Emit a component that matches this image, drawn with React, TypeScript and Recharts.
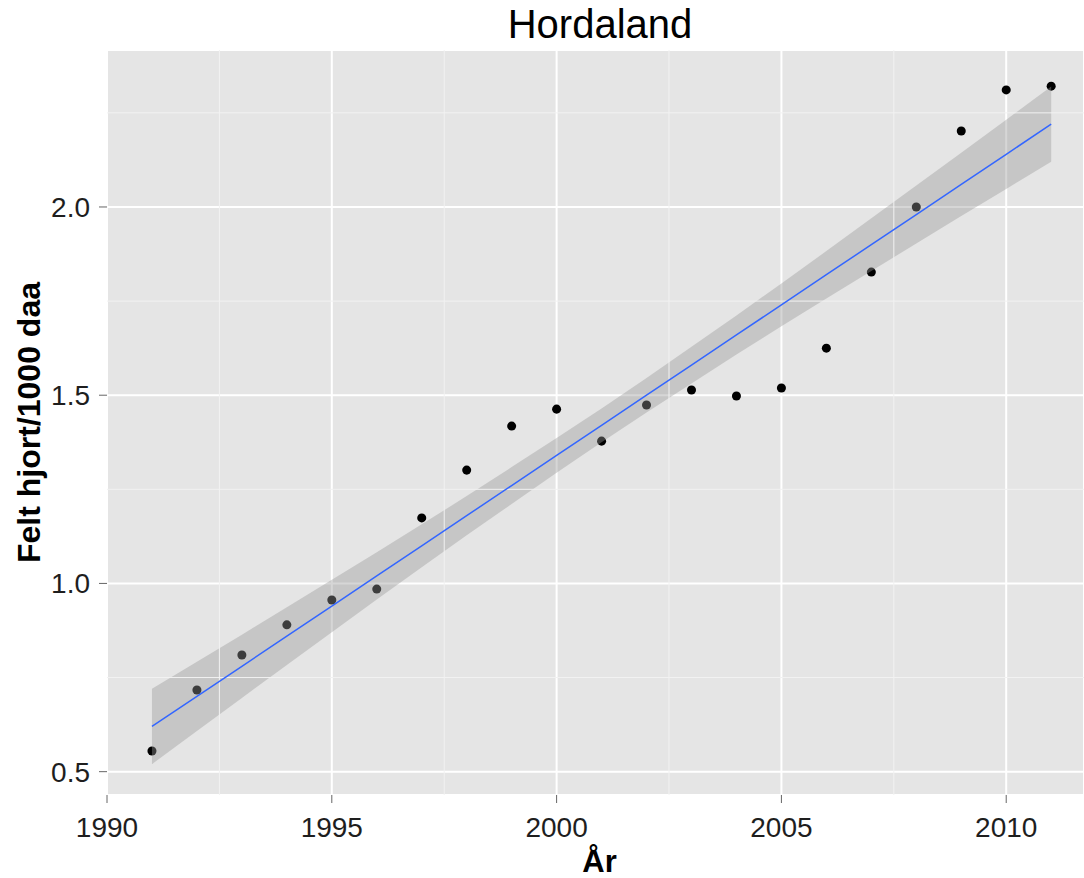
import {
  Area,
  CartesianGrid,
  ComposedChart,
  Line,
  ReferenceLine,
  Scatter,
  XAxis,
  YAxis,
} from "recharts";

// Hordaland: felt hjort per 1000 daa, 1991-2011, with linear fit and 95% band
const years = [
  1991, 1992, 1993, 1994, 1995, 1996, 1997, 1998, 1999, 2000, 2001, 2002,
  2003, 2004, 2005, 2006, 2007, 2008, 2009, 2010, 2011,
];
const felt = [
  0.555, 0.717, 0.81, 0.89, 0.956, 0.985, 1.174, 1.301, 1.418, 1.463, 1.378,
  1.474, 1.514, 1.498, 1.519, 1.625, 1.827, 2.0, 2.202, 2.311, 2.321,
];
const fit = [
  0.62, 0.7, 0.78, 0.86, 0.94, 1.02, 1.1, 1.18, 1.26, 1.34, 1.42, 1.5, 1.58,
  1.66, 1.74, 1.82, 1.9, 1.98, 2.06, 2.14, 2.22,
];
const ciLow = [
  0.52, 0.608, 0.696, 0.783, 0.87, 0.957, 1.043, 1.128, 1.211, 1.294, 1.375,
  1.454, 1.531, 1.608, 1.683, 1.757, 1.83, 1.903, 1.976, 2.048, 2.12,
];
const ciHigh = [
  0.72, 0.792, 0.864, 0.937, 1.01, 1.083, 1.157, 1.232, 1.309, 1.386, 1.465,
  1.546, 1.629, 1.712, 1.797, 1.883, 1.97, 2.057, 2.144, 2.232, 2.32,
];

const xTicks = [1990, 1995, 2000, 2005, 2010];
const xMinor = [1992.5, 1997.5, 2002.5, 2007.5];
const yTicks = [0.5, 1.0, 1.5, 2.0];
const yMinor = [0.75, 1.25, 1.75, 2.25];

const data = years.map((year, i) => ({
  year,
  felt: felt[i],
  fit: fit[i],
  ci: [ciLow[i], ciHigh[i]],
}));

const FONT = "'Liberation Sans', Arial, Helvetica, sans-serif";
const tickStyle = { fill: "#1e1e1e", fontSize: 28, fontFamily: FONT };

export default function App() {
  return (
    <div
      style={{
        position: "absolute",
        left: 0,
        top: 0,
        width: 1084,
        height: 878,
        background: "#fff",
        fontFamily: FONT,
      }}
    >
      <div
        style={{
          position: "absolute",
          left: 600,
          top: 4,
          transform: "translateX(-50%)",
          fontSize: 40,
          lineHeight: 1,
          color: "#000",
          whiteSpace: "nowrap",
        }}
      >
        Hordaland
      </div>
      <ComposedChart
        width={1084}
        height={878}
        data={data}
        margin={{ top: 50, right: 0, bottom: 0, left: 0 }}
      >
        <CartesianGrid fill="#e5e5e5" stroke="#ffffff" strokeWidth={2} />
        {xMinor.map((x) => (
          <ReferenceLine key={`x${x}`} x={x} stroke="#f2f2f2" strokeWidth={1} />
        ))}
        {yMinor.map((y) => (
          <ReferenceLine key={`y${y}`} y={y} stroke="#f2f2f2" strokeWidth={1} />
        ))}
        <XAxis
          dataKey="year"
          type="number"
          domain={[1990, 2011.73]}
          ticks={xTicks}
          allowDataOverflow
          height={83}
          tick={tickStyle}
          tickSize={8}
          tickMargin={14}
          tickLine={{ stroke: "#666", strokeWidth: 1 }}
          axisLine={false}
          label={{
            value: "År",
            position: "insideBottom",
            offset: 6,
            dx: 4,
            style: { fontSize: 31, fontWeight: "bold", fill: "#000", fontFamily: FONT },
          }}
        />
        <YAxis
          type="number"
          domain={[0.438, 2.417]}
          ticks={yTicks}
          allowDataOverflow
          width={107}
          tick={tickStyle}
          tickSize={8}
          tickMargin={9}
          tickLine={{ stroke: "#666", strokeWidth: 1 }}
          axisLine={false}
          tickFormatter={(v: number) => v.toFixed(1)}
          label={{
            value: "Felt hjort/1000 daa",
            angle: -90,
            position: "insideLeft",
            offset: 29,
            style: {
              textAnchor: "middle",
              fontSize: 32,
              fontWeight: "bold",
              fill: "#000",
              fontFamily: FONT,
            },
          }}
        />
        {/* points sit under the confidence band, as in ggplot */}
        <Scatter
          dataKey="felt"
          fill="#000"
          shape="circle"
          zIndex={50}
          isAnimationActive={false}
        />
        <Area
          dataKey="ci"
          type="linear"
          fill="#999999"
          fillOpacity={0.4}
          stroke="none"
          zIndex={100}
          isAnimationActive={false}
        />
        <Line
          dataKey="fit"
          type="linear"
          stroke="#3366ff"
          strokeWidth={1.5}
          dot={false}
          activeDot={false}
          zIndex={400}
          isAnimationActive={false}
        />
      </ComposedChart>
    </div>
  );
}
